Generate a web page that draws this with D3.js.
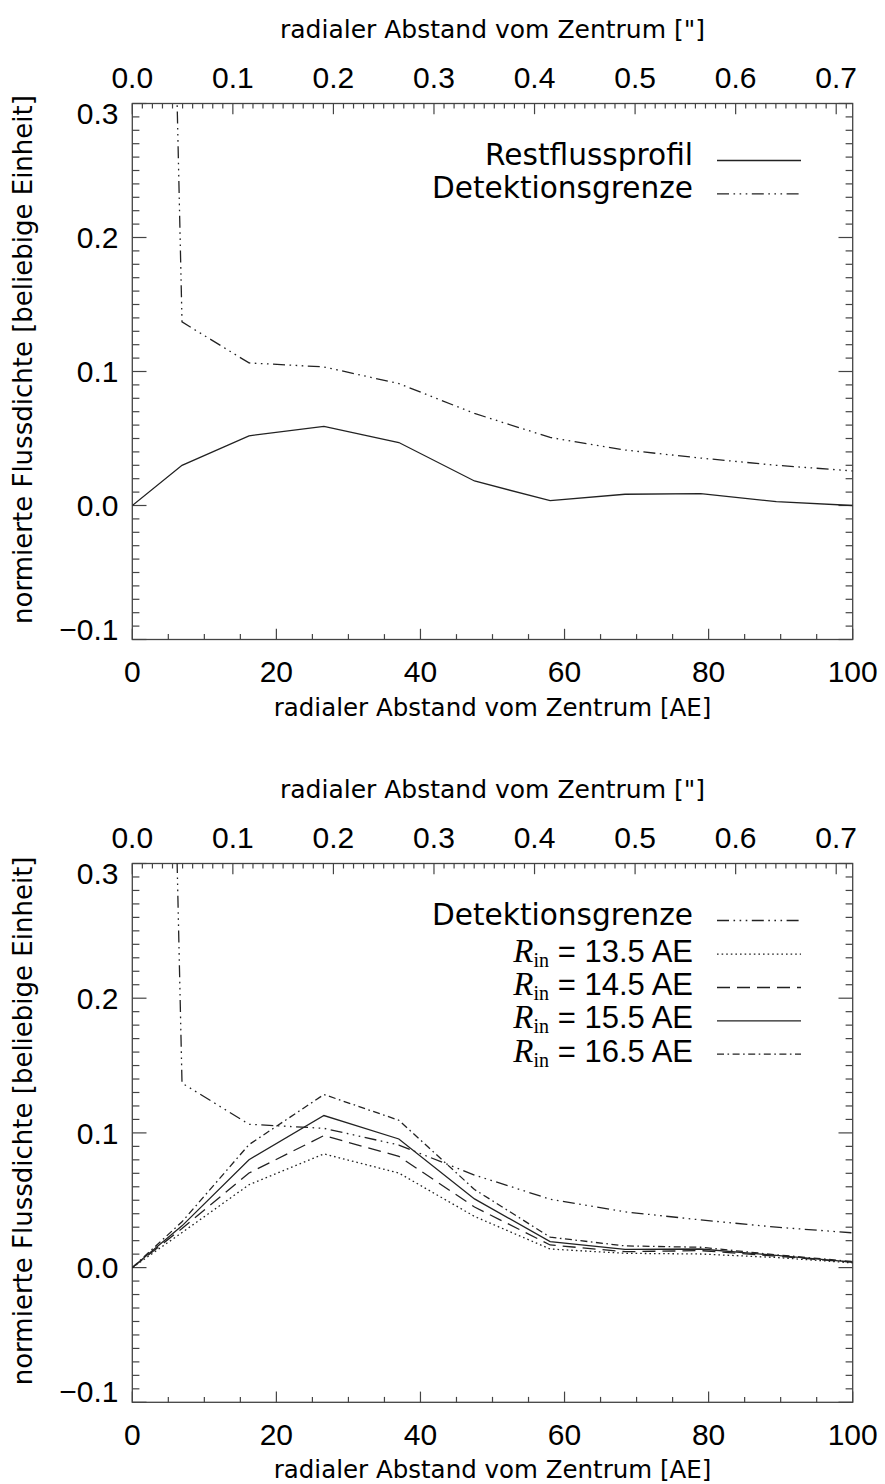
<!DOCTYPE html>
<html><head><meta charset="utf-8">
<script src="https://cdn.jsdelivr.net/npm/d3@7"></script>
<style>html,body{margin:0;padding:0;background:#fff}svg{display:block}</style>
</head><body>
<svg id="chart" width="885" height="1484"></svg>
<script>
// ---------- data ----------
const xAE = [0, 6.9, 16.2, 26.6, 37.0, 47.5, 58.0, 68.4, 78.9, 89.4, 100];
const detektionsgrenze = [1.8, 0.137, 0.1064, 0.1034, 0.091, 0.0687, 0.0508, 0.0414, 0.0354, 0.0300, 0.0258];
const restflussprofil = [0.0, 0.030, 0.052, 0.059, 0.047, 0.0183, 0.0036, 0.0084, 0.0089, 0.0029, 0.0];
const rin135 = [0, 0.026, 0.0615, 0.0844, 0.0702, 0.038, 0.0138, 0.0106, 0.0101, 0.0075, 0.0035];
const rin145 = [0, 0.029, 0.0702, 0.0980, 0.0826, 0.045, 0.0168, 0.0118, 0.0126, 0.0085, 0.0040];
const rin155 = [0, 0.031, 0.0801, 0.1129, 0.0955, 0.051, 0.0193, 0.0136, 0.0138, 0.0090, 0.0040];
const rin165 = [0, 0.034, 0.0913, 0.1285, 0.1094, 0.058, 0.0226, 0.0161, 0.0151, 0.0095, 0.0045];
const yTicks = [-0.1, 0.0, 0.1, 0.2, 0.3];
const yTickLabels = ["\u22120.1", "0.0", "0.1", "0.2", "0.3"];
const xTicks = [0, 20, 40, 60, 80, 100];
const topTicks = [0, 0.1, 0.2, 0.3, 0.4, 0.5, 0.6, 0.7];
const xDomain = [0, 100];
const yDomain = [-0.1, 0.3];
const arcsecMax = 0.7164;
const xTitle = "radialer Abstand vom Zentrum [AE]";
const topTitle = "radialer Abstand vom Zentrum [\"]";
const yTitle = "normierte Flussdichte [beliebige Einheit]";
const rinLabels = ["13.5", "14.5", "15.5", "16.5"];

// ---------- styles ----------
const DASH = {
  solid: null,
  dddot: "12,4.5,1.6,4.5,1.6,4.5,1.6,4.5",
  dotted: "1.6,3",
  dashed: "13,7",
  dashdot: "7,3.5,1.6,3.5"
};
const LINE_COLOR = "#222";
const AXIS_COLOR = "#444";
const NUM_FONT = "'Liberation Sans', Arial, Helvetica, sans-serif";
const TXT_FONT = "'DejaVu Sans', sans-serif";
const SERIF = "'Liberation Serif', 'DejaVu Serif', serif";

const svg = d3.select("#chart");
svg.append("rect").attr("width", 885).attr("height", 1484).attr("fill", "#fff");

const LEFT = 132.3, RIGHT = 852.7;

function drawPanel(cfg, idx) {
  const g = svg.append("g");
  const x = d3.scaleLinear().domain(xDomain).range([LEFT, RIGHT]);
  const xs = d3.scaleLinear().domain([0, arcsecMax]).range([LEFT, RIGHT]);
  const y = d3.scaleLinear().domain(yDomain).range([cfg.bottom, cfg.top]);

  const clipId = "clip" + idx;
  svg.append("clipPath").attr("id", clipId).append("rect")
    .attr("x", LEFT).attr("y", cfg.top).attr("width", RIGHT - LEFT).attr("height", cfg.bottom - cfg.top);

  // frame
  g.append("rect").attr("x", LEFT).attr("y", cfg.top)
    .attr("width", RIGHT - LEFT).attr("height", cfg.bottom - cfg.top)
    .attr("fill", "none").attr("stroke", AXIS_COLOR).attr("stroke-width", 1.3);

  const tk = g.append("g").attr("stroke", AXIS_COLOR).attr("stroke-width", 1.2);
  // y ticks (left & right)
  for (let k = -10; k <= 30; k++) {
    const v = k / 100, major = (k % 10 === 0);
    const len = major ? 14.2 : 7.1;
    const yy = y(v);
    tk.append("line").attr("x1", LEFT).attr("x2", LEFT + len).attr("y1", yy).attr("y2", yy);
    tk.append("line").attr("x1", RIGHT).attr("x2", RIGHT - len).attr("y1", yy).attr("y2", yy);
  }
  // bottom ticks (AE)
  for (let k = 0; k <= 20; k++) {
    const v = k * 5, major = (k % 4 === 0);
    const len = major ? 10.7 : 5.4;
    const xx = x(v);
    tk.append("line").attr("x1", xx).attr("x2", xx).attr("y1", cfg.bottom).attr("y2", cfg.bottom - len);
  }
  // top ticks (arcsec)
  for (let k = 0; k <= 71; k++) {
    const v = k / 100, major = (k % 10 === 0);
    const len = major ? 10.7 : 5;
    const xx = xs(v);
    tk.append("line").attr("x1", xx).attr("x2", xx).attr("y1", cfg.top).attr("y2", cfg.top + len);
  }

  // y labels (centered on tick, kept inside frame)
  const cap = 21.5;
  yTicks.forEach((v, i) => {
    let base = y(v) + cap / 2;
    if (base > cfg.bottom) base = cfg.bottom;
    if (base - cap < cfg.top - 1.5) base = cfg.top - 1.5 + cap;
    g.append("text").attr("x", 118.5).attr("y", base)
      .attr("text-anchor", "end").attr("font-family", NUM_FONT).attr("font-size", 30)
      .attr("fill", "#000").text(yTickLabels[i]);
  });
  // bottom labels
  xTicks.forEach(v => {
    g.append("text").attr("x", x(v)).attr("y", cfg.bottom + 42.6)
      .attr("text-anchor", "middle").attr("font-family", NUM_FONT).attr("font-size", 30)
      .attr("fill", "#000").text(d3.format("d")(v));
  });
  // top labels
  topTicks.forEach(v => {
    g.append("text").attr("x", xs(v)).attr("y", cfg.top - 15.5)
      .attr("text-anchor", "middle").attr("font-family", NUM_FONT).attr("font-size", 30)
      .attr("fill", "#000").text(d3.format(".1f")(v));
  });

  // titles
  const cx = (LEFT + RIGHT) / 2;
  g.append("text").attr("x", cx).attr("y", cfg.top - 65.5)
    .attr("text-anchor", "middle").attr("font-family", TXT_FONT).attr("font-size", 25)
    .attr("fill", "#000").text(topTitle);
  g.append("text").attr("x", cx).attr("y", cfg.bottom + 76)
    .attr("text-anchor", "middle").attr("font-family", TXT_FONT).attr("font-size", 24.5)
    .attr("fill", "#000").text(xTitle);
  const cy = (cfg.top + cfg.bottom) / 2 - 12;
  g.append("text").attr("transform", `translate(32,${cy}) rotate(-90)`)
    .attr("text-anchor", "middle").attr("font-family", TXT_FONT).attr("font-size", 26)
    .attr("fill", "#000").text(yTitle);

  // series
  const line = d3.line().x(d => x(d[0])).y(d => y(d[1]));
  const lg = g.append("g").attr("clip-path", `url(#${clipId})`);
  cfg.series.forEach(s => {
    lg.append("path").datum(xAE.map((xv, i) => [xv, s.values[i]]))
      .attr("d", line).attr("fill", "none").attr("stroke", LINE_COLOR)
      .attr("stroke-width", 1.3).attr("stroke-dasharray", DASH[s.dash]);
  });

  // legend
  const leg = g.append("g");
  cfg.legend.forEach((s, i) => {
    const base = cfg.legendBase + i * cfg.legendStep + (i > 0 ? cfg.legendExtra : 0);
    const t = leg.append("text").attr("x", 693).attr("y", base).attr("text-anchor", "end").attr("fill", "#000");
    if (s.rin) {
      t.append("tspan").attr("font-family", SERIF)
        .attr("font-style", "italic").attr("font-size", 33).text("R");
      t.append("tspan").attr("font-family", SERIF)
        .attr("font-size", 20).attr("dy", 5).text("in");
      t.append("tspan").attr("font-family", NUM_FONT).attr("font-size", 31).attr("dy", -5)
        .text("\u00A0= " + s.rin + " AE");
    } else {
      t.attr("font-family", TXT_FONT).attr("font-size", 29.6).text(s.label);
    }
    const ly = base - (s.rin ? 7.5 : 4.5);
    leg.append("line").attr("x1", 717).attr("x2", 801).attr("y1", ly).attr("y2", ly)
      .attr("stroke", LINE_COLOR).attr("stroke-width", 1.3).attr("stroke-dasharray", DASH[s.dash]);
  });
}

const panels = [
  {
    top: 103.5, bottom: 639.5,
    series: [
      { values: detektionsgrenze, dash: "dddot" },
      { values: restflussprofil, dash: "solid" }
    ],
    legend: [
      { label: "Restflussprofil", dash: "solid" },
      { label: "Detektionsgrenze", dash: "dddot" }
    ],
    legendBase: 165, legendStep: 33.3, legendExtra: 0
  },
  {
    top: 863.5, bottom: 1402.3,
    series: [
      { values: detektionsgrenze, dash: "dddot" },
      { values: rin135, dash: "dotted" },
      { values: rin145, dash: "dashed" },
      { values: rin155, dash: "solid" },
      { values: rin165, dash: "dashdot" }
    ],
    legend: [
      { label: "Detektionsgrenze", dash: "dddot" },
      { rin: rinLabels[0], dash: "dotted" },
      { rin: rinLabels[1], dash: "dashed" },
      { rin: rinLabels[2], dash: "solid" },
      { rin: rinLabels[3], dash: "dashdot" }
    ],
    legendBase: 925, legendStep: 33.3, legendExtra: 3.4
  }
];
panels.forEach(drawPanel);
</script>
</body></html>
